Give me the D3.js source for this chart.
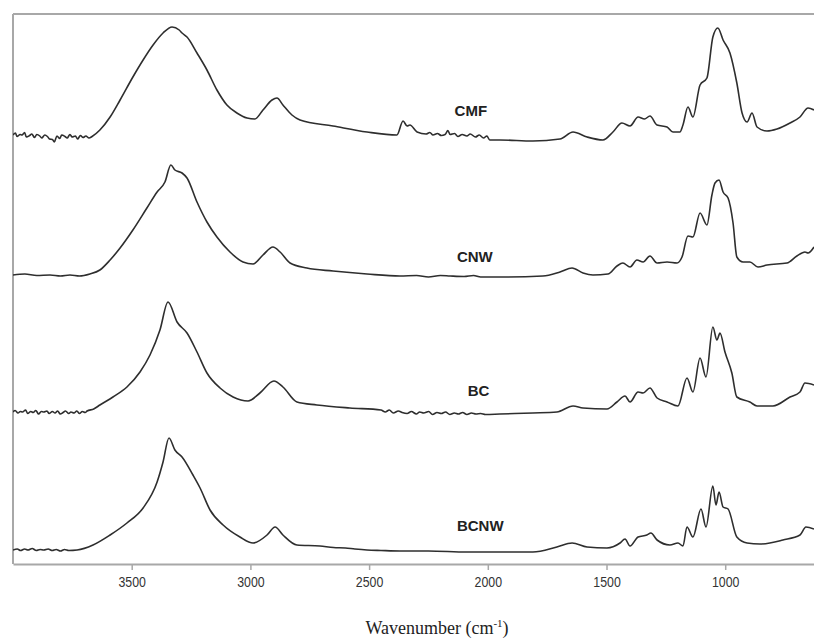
<!DOCTYPE html>
<html>
<head>
<meta charset="utf-8">
<script src="https://cdn.jsdelivr.net/npm/d3@7/dist/d3.min.js"></script>
<style>
  html, body { margin: 0; padding: 0; background: #fff; }
  svg { display: block; }
</style>
</head>
<body>
<svg id="chart" width="814" height="638"></svg>
<script>
// ---- data: [wavenumber (cm-1), absorbance (a.u., stacked with offsets)] ----
const seriesNames = ["CMF", "CNW", "BC", "BCNW"];
const xTickValues = [3500, 3000, 2500, 2000, 1500, 1000];

const cmf = [
  [4000,85.8],[3990,86.2],[3983,85.5],[3970,85.9],[3962,85.8],[3951,86.3],[3944,85.4],[3930,85.7],
  [3921,86.0],[3909,85.3],[3900,85.9],[3887,85.6],[3879,85.2],[3866,85.8],[3855,85.5],[3846,85.0],
  [3834,84.9],[3826,84.4],[3815,85.6],[3803,85.1],[3795,85.8],[3781,85.5],[3772,85.2],[3760,85.9],
  [3751,85.4],[3737,85.6],[3728,85.0],[3716,85.7],[3705,85.3],[3693,85.6],[3680,85.2],[3667,85.5],
  [3634,86.8],[3591,89.4],[3549,92.8],[3495,97.4],[3452,100.8],[3410,103.8],[3368,106.2],[3330,107.4],
  [3300,106.8],[3288,106.2],[3267,105.4],[3225,102.2],[3183,98.8],[3141,94.8],[3099,91.8],[3057,90.2],
  [3014,89.2],[2981,89.0],[2947,90.8],[2909,92.8],[2888,93.2],[2863,91.8],[2825,89.8],[2791,88.8],
  [2652,87.6],[2509,86.4],[2383,85.8],[2357,88.6],[2340,87.6],[2328,87.8],[2298,86.4],[2260,86.0],
  [2244,86.3],[2231,85.8],[2212,86.1],[2196,85.7],[2180,85.9],[2168,86.7],[2159,85.9],[2140,86.1],
  [2126,85.5],[2108,85.9],[2088,85.6],[2074,86.0],[2052,85.4],[2036,85.8],[2018,85.2],[2004,85.6],
  [1992,84.8],[1970,84.8],[1949,84.8],[1810,84.6],[1696,85.0],[1641,86.4],[1582,85.4],[1515,84.8],
  [1473,86.4],[1435,88.2],[1401,87.6],[1367,89.4],[1340,89.0],[1317,89.6],[1287,87.8],[1245,87.4],
  [1220,86.4],[1191,86.4],[1178,87.8],[1157,91.4],[1136,89.4],[1106,95.8],[1077,97.2],[1052,105.4],
  [1031,107.2],[1009,104.8],[980,102.2],[951,96.2],[929,90.2],[908,88.4],[887,90.2],[866,87.4],
  [824,86.6],[782,87.0],[727,88.2],[685,89.4],[651,91.2],[626,90.8]
];

const cnw = [
  [4000,57.8],[3950,58.0],[3900,57.7],[3844,57.8],[3800,57.6],[3760,57.8],[3720,57.6],[3676,58.0],
  [3634,58.8],[3591,60.8],[3549,63.2],[3495,66.8],[3436,71.2],[3393,74.4],[3360,76.4],[3335,79.8],
  [3318,78.8],[3288,78.2],[3267,77.2],[3225,72.4],[3183,68.4],[3141,65.4],[3086,62.4],[3031,60.4],
  [2989,60.0],[2947,61.8],[2905,63.4],[2875,62.4],[2833,60.2],[2762,59.2],[2652,58.6],[2509,58.0],
  [2370,57.6],[2300,57.7],[2250,57.4],[2200,57.7],[2159,57.6],[2100,57.5],[2060,57.7],[2030,57.4],
  [1949,57.4],[1768,57.6],[1696,58.4],[1645,59.2],[1599,58.2],[1557,57.8],[1494,58.0],[1456,59.6],
  [1431,60.2],[1401,59.4],[1372,60.8],[1346,60.4],[1317,61.6],[1287,60.2],[1245,60.4],[1203,60.2],
  [1182,61.4],[1157,65.6],[1136,65.4],[1106,70.2],[1077,67.8],[1056,73.8],[1043,76.2],[1026,76.8],
  [1009,74.4],[988,73.2],[967,68.2],[951,61.4],[925,60.4],[896,60.4],[862,59.4],[824,59.8],
  [740,60.2],[698,61.6],[664,62.4],[651,62.2],[626,63.4]
];

const bc = [
  [4000,30.4],[3991,30.7],[3979,30.2],[3969,30.5],[3960,30.4],[3947,30.8],[3938,30.1],[3925,30.5],
  [3915,30.3],[3904,30.7],[3892,30.0],[3881,30.5],[3870,30.4],[3857,30.6],[3848,30.1],[3834,30.5],
  [3823,30.2],[3812,30.6],[3801,30.0],[3789,30.3],[3779,30.6],[3765,30.1],[3756,30.4],[3743,30.2],
  [3731,30.6],[3720,30.1],[3708,30.5],[3696,30.3],[3688,30.6],[3660,31.0],[3634,31.8],[3579,33.4],
  [3520,35.4],[3465,38.4],[3423,41.8],[3381,46.8],[3347,52.4],[3309,48.4],[3267,46.2],[3225,42.4],
  [3183,38.2],[3128,35.2],[3073,33.4],[3010,32.6],[2960,34.2],[2901,36.6],[2863,35.4],[2804,32.4],
  [2720,31.8],[2581,31.2],[2450,30.8],[2432,30.4],[2415,30.8],[2398,30.2],[2377,30.6],[2361,30.3],
  [2340,30.1],[2322,30.5],[2301,30.0],[2287,30.4],[2270,30.2],[2249,30.5],[2233,29.9],[2214,30.3],
  [2196,30.1],[2178,30.4],[2160,29.9],[2141,30.2],[2124,30.0],[2106,30.3],[2088,29.9],[2069,30.2],
  [2050,30.0],[2030,30.1],[2010,29.9],[1949,30.0],[1810,30.2],[1709,30.4],[1641,31.6],[1599,31.2],
  [1498,31.0],[1456,32.4],[1422,33.6],[1401,32.4],[1367,34.4],[1346,34.2],[1317,35.2],[1287,33.2],
  [1245,32.4],[1199,31.6],[1161,37.2],[1136,34.4],[1106,41.2],[1081,37.4],[1052,47.4],[1035,44.8],
  [1022,46.2],[1001,42.4],[972,38.2],[951,33.4],[896,32.4],[866,31.6],[799,31.6],[727,33.4],
  [685,34.4],[664,36.2],[626,35.8]
];

const bcnw = [
  [4000,2.8],[3982,3.0],[3968,2.7],[3951,3.0],[3937,2.8],[3919,3.1],[3902,2.7],[3886,2.9],
  [3870,2.8],[3852,3.0],[3835,2.7],[3818,2.9],[3800,2.6],[3783,2.9],[3765,2.7],[3730,2.8],
  [3663,3.8],[3591,5.8],[3520,8.2],[3452,11.2],[3393,16.4],[3368,20.4],[3343,25.2],[3318,22.8],
  [3288,21.4],[3242,17.8],[3212,15.2],[3170,10.8],[3115,7.8],[3044,5.4],[2989,4.2],[2930,5.8],
  [2896,7.4],[2863,5.8],[2804,3.8],[2707,3.6],[2650,3.3],[2600,3.2],[2560,3.0],[2509,2.8],
  [2450,2.7],[2370,2.6],[2250,2.6],[2088,2.4],[1810,2.4],[1709,3.4],[1645,4.2],[1582,3.4],
  [1498,3.2],[1443,4.2],[1422,5.0],[1401,3.6],[1367,5.4],[1330,5.8],[1313,6.2],[1287,4.8],
  [1233,3.8],[1199,4.2],[1178,3.6],[1161,7.4],[1136,5.4],[1102,11.0],[1081,7.4],[1052,15.6],
  [1039,11.8],[1026,14.4],[1009,11.4],[988,11.0],[951,5.4],[908,4.2],[854,4.0],[757,4.8],
  [685,5.8],[660,7.4],[626,7.0]
];

const seriesData = [cmf, cnw, bc, bcnw];

// ---- layout ----
const svg = d3.select("#chart");
const mLeft = 13, mRight = 814, mTop = 14, mBottom = 564;

const x = d3.scaleLinear().domain([4000, 626]).range([mLeft, mRight]);
const y = d3.scaleLinear().domain([0, 110]).range([mBottom, mTop]);

svg.append("defs").append("clipPath").attr("id", "plotclip")
  .append("rect").attr("x", mLeft).attr("y", mTop).attr("width", mRight - mLeft).attr("height", mBottom - mTop);

// frame (left & top)
svg.append("line").attr("x1", mLeft).attr("x2", mLeft).attr("y1", mTop).attr("y2", mBottom)
  .attr("stroke", "#a8a8a8").attr("stroke-width", 2);
svg.append("line").attr("x1", mLeft).attr("x2", mRight + 5).attr("y1", mTop).attr("y2", mTop)
  .attr("stroke", "#a8a8a8").attr("stroke-width", 2);

// bottom axis
const xAxis = d3.axisBottom(x).tickValues(xTickValues).tickFormat(d3.format("d"))
  .tickSize(6).tickSizeOuter(0).tickPadding(6);
const gx = svg.append("g").attr("transform", `translate(0,${mBottom})`).call(xAxis);
gx.select(".domain").attr("stroke", "#a8a8a8").attr("stroke-width", 2);
gx.selectAll(".tick line").attr("stroke", "#a8a8a8").attr("stroke-width", 1.5);
gx.selectAll(".tick text")
  .attr("fill", "#333")
  .style("font-family", "'Liberation Sans', Arial, sans-serif")
  .style("font-size", "13px")
  .attr("transform", "scale(0.95,1.08)");

// spectra
const line = d3.line().x(d => x(d[0])).y(d => y(d[1])).curve(d3.curveMonotoneX);
svg.append("g").attr("clip-path", "url(#plotclip)")
  .selectAll("path").data(seriesData).join("path")
  .attr("d", line)
  .attr("fill", "none")
  .attr("stroke", "#2e2e2e")
  .attr("stroke-width", 1.6)
  .attr("stroke-linejoin", "round");

// series labels (anchored in data space)
const labelAnchors = [[2140, 89.6], [2130, 60.4], [2085, 33.6], [2130, 6.6]];
svg.append("g").selectAll("text").data(seriesNames).join("text")
  .attr("x", (d, i) => x(labelAnchors[i][0]))
  .attr("y", (d, i) => y(labelAnchors[i][1]))
  .text(d => d)
  .attr("fill", "#222")
  .style("font-family", "'Liberation Sans', Arial, sans-serif")
  .style("font-weight", "bold")
  .style("font-size", "15px");

// axis title
const title = svg.append("text")
  .attr("x", 437).attr("y", 634)
  .attr("text-anchor", "middle")
  .attr("fill", "#222")
  .style("font-family", "'Liberation Serif', 'Times New Roman', serif")
  .style("font-size", "18px");
title.append("tspan").text("Wavenumber (cm");
title.append("tspan").attr("dy", -7).style("font-size", "11px").text("-1");
title.append("tspan").attr("dy", 7).text(")");
</script>
</body>
</html>
